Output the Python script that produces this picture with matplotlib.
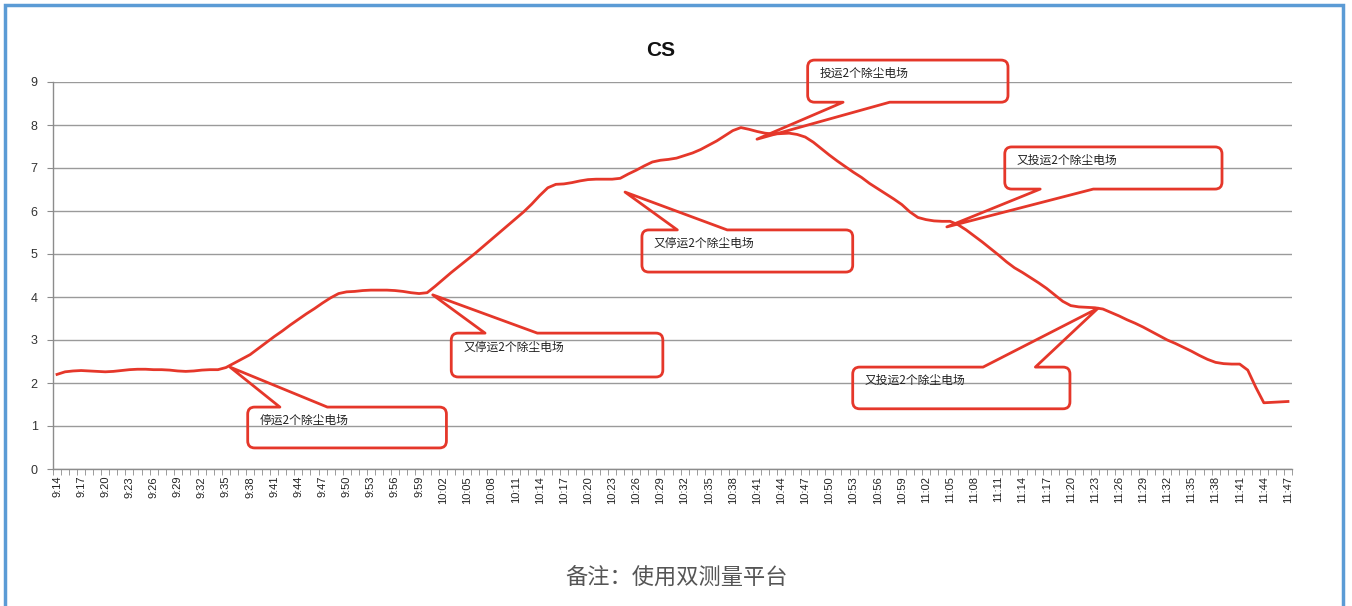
import matplotlib
matplotlib.use('Agg')
import matplotlib.pyplot as plt
from matplotlib.path import Path
from matplotlib.patches import PathPatch, Rectangle
from matplotlib.transforms import IdentityTransform

plt.rcParams['font.family'] = ['Liberation Sans', 'Noto Sans CJK SC', 'DejaVu Sans']

# time labels, one per minute from 9:14 to 11:47
start_h, start_m, n_minutes = 9, 14, 154
times = []
for i in range(n_minutes):
    t = start_h * 60 + start_m + i
    times.append('%d:%02d' % (t // 60, t % 60))

cs = [2.20, 2.26, 2.28, 2.29, 2.28, 2.27, 2.26, 2.27, 2.29, 2.31,
      2.32, 2.32, 2.31, 2.31, 2.30, 2.28, 2.27, 2.28, 2.30, 2.31,
      2.31, 2.36, 2.46, 2.56, 2.66, 2.80, 2.94, 3.08, 3.21, 3.35,
      3.48, 3.61, 3.73, 3.86, 3.98, 4.08, 4.12, 4.13, 4.15, 4.16,
      4.16, 4.16, 4.15, 4.13, 4.10, 4.08, 4.10, 4.25, 4.41, 4.57,
      4.72, 4.87, 5.02, 5.18, 5.34, 5.50, 5.66, 5.82, 5.98, 6.16,
      6.36, 6.54, 6.62, 6.63, 6.66, 6.70, 6.73, 6.74, 6.74, 6.74,
      6.76, 6.86, 6.95, 7.05, 7.14, 7.18, 7.20, 7.23, 7.29, 7.35,
      7.43, 7.53, 7.63, 7.75, 7.87, 7.94, 7.90, 7.85, 7.81, 7.79,
      7.80, 7.81, 7.78, 7.72, 7.60, 7.45, 7.30, 7.16, 7.03, 6.90,
      6.78, 6.64, 6.52, 6.40, 6.28, 6.15, 5.98, 5.85, 5.80, 5.77,
      5.76, 5.76, 5.68, 5.56, 5.42, 5.28, 5.13, 4.98, 4.82, 4.68,
      4.57, 4.45, 4.33, 4.20, 4.05, 3.90, 3.80, 3.77, 3.76, 3.75,
      3.72, 3.64, 3.56, 3.47, 3.39, 3.30, 3.20, 3.10, 3.00, 2.92,
      2.83, 2.74, 2.64, 2.55, 2.48, 2.45, 2.44, 2.44, 2.30, 1.90,
      1.54, 1.55, 1.56, 1.57]

# callouts: text, box (x0, x1, ybottom, ytop), wedge base x, tip, side of box
notes = ['停运2个除尘电场', '又停运2个除尘电场', '又停运2个除尘电场',
         '投运2个除尘电场', '又投运2个除尘电场', '又投运2个除尘电场']
boxes = [(23.7, 48.4, 0.49, 1.44), (49.0, 75.3, 2.14, 3.16), (72.7, 98.9, 4.58, 5.56),
         (93.3, 118.2, 8.53, 9.51), (117.8, 144.8, 6.51, 7.49), (98.9, 125.9, 1.40, 2.37)]
wedges = [(27.7, 33.6), (53.2, 59.7), (77.1, 83.3), (97.7, 103.5), (122.2, 128.8), (115.1, 121.6)]
tips = [(21.5, 2.37), (46.7, 4.05), (70.6, 6.44), (87.0, 7.67), (110.6, 5.63), (129.4, 3.74)]
sides = ['top', 'top', 'top', 'bottom', 'bottom', 'top']

red = '#e5372a'

fig = plt.figure(figsize=(13.52, 6.06), dpi=100)
ax = fig.add_axes([53 / 1352, 137 / 606, (1292 - 53) / 1352, (469 - 82) / 606])

x = list(range(len(cs)))
ax.plot(x, cs, color=red, lw=2.0, solid_joinstyle='round', zorder=3)

ax.set_xlim(-0.5, len(cs) - 0.5)
ax.set_ylim(0, 9)
ax.set_yticks(range(0, 10))
ax.yaxis.grid(True, color='#9a9a9a', lw=1.0)
ax.set_axisbelow(True)
for s in ['top', 'right']:
    ax.spines[s].set_visible(False)
for s in ['left', 'bottom']:
    ax.spines[s].set_color('#8c8c8c')
    ax.spines[s].set_linewidth(1.0)

ax.set_xticks(x[::3])
ax.set_xticklabels(times[::3], rotation=90, fontsize=8, color='#222222')
ax.set_xticks([i - 0.5 for i in range(len(cs) + 1)], minor=True)
ax.tick_params(axis='x', which='major', length=0, pad=5)
ax.tick_params(axis='x', which='minor', length=4, color='#8c8c8c')
ax.tick_params(axis='y', length=4, color='#8c8c8c', labelsize=9, labelcolor='#333333', pad=7)

fig.text(661 / 1352, 1 - 50 / 606, 'CS', ha='center', va='center', fontsize=15,
         fontweight='bold', color='#111111')
fig.text(677 / 1352, 1 - 578 / 606, '备注：使用双测量平台', ha='center', va='center',
         fontsize=16, color='#555555', family=['Noto Sans CJK SC', 'DejaVu Sans'])

# outer blue frame
fig.patches.append(Rectangle((5 / 1352, -0.05), 1338 / 1352, 1.05 - 5 / 606,
                             transform=fig.transFigure, fill=False,
                             edgecolor='#5b9bd5', lw=2.5))


def callout(box, wedge, tip, side, r=7):
    td = ax.transData
    x0, y0 = td.transform((box[0], box[2]))
    x1, y1 = td.transform((box[1], box[3]))
    bx0 = td.transform((wedge[0], 0))[0]
    bx1 = td.transform((wedge[1], 0))[0]
    tx, ty = td.transform(tip)
    v, c = [], []
    v.append((x0 + r, y1)); c.append(Path.MOVETO)
    if side == 'top':
        v += [(bx0, y1), (tx, ty), (bx1, y1)]; c += [Path.LINETO] * 3
    v += [(x1 - r, y1), (x1, y1), (x1, y1 - r)]; c += [Path.LINETO, Path.CURVE3, Path.CURVE3]
    v += [(x1, y0 + r), (x1, y0), (x1 - r, y0)]; c += [Path.LINETO, Path.CURVE3, Path.CURVE3]
    if side == 'bottom':
        v += [(bx1, y0), (tx, ty), (bx0, y0)]; c += [Path.LINETO] * 3
    v += [(x0 + r, y0), (x0, y0), (x0, y0 + r)]; c += [Path.LINETO, Path.CURVE3, Path.CURVE3]
    v += [(x0, y1 - r), (x0, y1), (x0 + r, y1)]; c += [Path.LINETO, Path.CURVE3, Path.CURVE3]
    v.append((x0 + r, y1)); c.append(Path.CLOSEPOLY)
    patch = PathPatch(Path(v, c), facecolor='none', edgecolor=red, lw=2.0,
                      transform=IdentityTransform(), clip_on=False, zorder=4,
                      joinstyle='round')
    fig.patches.append(patch)


for note, box, wedge, tip, side in zip(notes, boxes, wedges, tips, sides):
    callout(box, wedge, tip, side)
    ty = box[3] - (box[3] - box[2]) * 0.32
    ax.text(box[0] + 1.5, ty, note, fontsize=8.5, color='#222222', va='center', ha='left',
            family=['Noto Sans CJK SC', 'DejaVu Sans'], zorder=5, clip_on=False)

fig.savefig('out.png', dpi=100)
